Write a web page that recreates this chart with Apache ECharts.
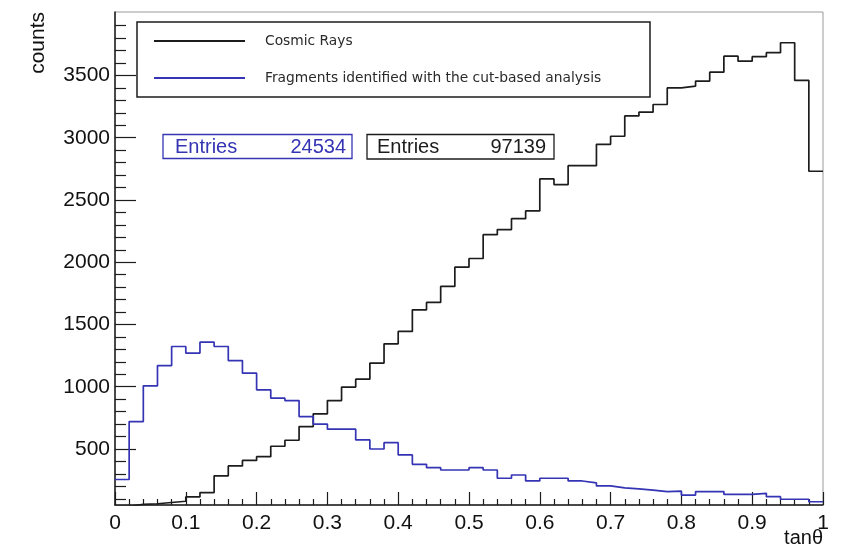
<!DOCTYPE html>
<html>
<head>
<meta charset="utf-8">
<script src="https://cdn.jsdelivr.net/npm/echarts@6/dist/echarts.min.js"></script>
<style>
  html, body { margin: 0; padding: 0; background: #ffffff; }
  #chart { width: 846px; height: 544px; }
</style>
</head>
<body>
<div id="chart"></div>
<script>
// Lower edges of the 50 tanθ bins (bin width 0.02); the last bin closes at 1.
const binEdges = [
  0.00, 0.02, 0.04, 0.06, 0.08, 0.10, 0.12, 0.14, 0.16, 0.18,
  0.20, 0.22, 0.24, 0.26, 0.28, 0.30, 0.32, 0.34, 0.36, 0.38,
  0.40, 0.42, 0.44, 0.46, 0.48, 0.50, 0.52, 0.54, 0.56, 0.58,
  0.60, 0.62, 0.64, 0.66, 0.68, 0.70, 0.72, 0.74, 0.76, 0.78,
  0.80, 0.82, 0.84, 0.86, 0.88, 0.90, 0.92, 0.94, 0.96, 0.98
];
const binUpperEdge = 1.0;

// Counts per bin
const cosmicCounts = [
  40, 55, 60, 70, 80, 115, 150, 284, 364, 408,
  438, 522, 570, 680, 782, 889, 997, 1061, 1190, 1345,
  1444, 1618, 1677, 1806, 1960, 2030, 2221, 2262, 2350, 2412,
  2669, 2624, 2776, 2776, 2947, 3012, 3175, 3205, 3267, 3400,
  3414, 3455, 3527, 3655, 3615, 3651, 3683, 3763, 3460, 2731
];
const fragmentCounts = [
  255, 720, 1007, 1170, 1323, 1270, 1358, 1323, 1210, 1109,
  975, 908, 889, 760, 700, 659, 659, 573, 500, 551,
  452, 377, 350, 331, 331, 350, 331, 265, 291, 243,
  265, 265, 243, 227, 203, 187, 179, 170, 158, 162,
  130, 158, 158, 136, 136, 144, 117, 96, 96, 76
];

const seriesNames = ['Cosmic Rays', 'Fragments identified with the cut-based analysis'];
const entriesCosmic = 97139;
const entriesFragments = 24534;

const yMajorTicks = [500, 1000, 1500, 2000, 2500, 3000, 3500];
const yMinorTicks = [
  100, 200, 300, 400, 600, 700, 800, 900, 1100, 1200, 1300, 1400,
  1600, 1700, 1800, 1900, 2100, 2200, 2300, 2400, 2600, 2700, 2800, 2900,
  3100, 3200, 3300, 3400, 3600, 3700, 3800, 3900
];

const FONT = '"Liberation Sans", Arial, Helvetica, sans-serif';
const LEGEND_FONT = '"DejaVu Sans", sans-serif';
const BLACK = '#1c1c1c';
const BLUE = '#3434b4';
const Y_MIN = 50, Y_MAX = 4010;

// Histogram outline: one point per bin edge, drawn as steps
function histogramSteps(counts) {
  const pts = binEdges.map((x, i) => [x, counts[i]]);
  pts.push([binUpperEdge, counts[counts.length - 1]]);
  return pts;
}

const chart = echarts.init(document.getElementById('chart'), null, { renderer: 'canvas' });

const option = {
  animation: false,
  backgroundColor: '#ffffff',
  grid: {
    left: 115, top: 12, width: 708, height: 493,
    show: true, borderColor: '#9a9a9a', borderWidth: 1, backgroundColor: 'transparent'
  },
  xAxis: {
    type: 'value', min: 0, max: 1, interval: 0.1,
    axisLine: { show: true, onZero: false, lineStyle: { color: BLACK, width: 1.5 } },
    axisTick: { show: true, inside: true, length: 13, lineStyle: { color: BLACK, width: 1.2 } },
    minorTick: { show: true, splitNumber: 5, length: 6, lineStyle: { color: BLACK, width: 1.2 } },
    axisLabel: { fontSize: 21, fontFamily: FONT, color: '#111', margin: 8 },
    splitLine: { show: false }
  },
  yAxis: [
    {
      type: 'value', min: Y_MIN, max: Y_MAX, position: 'left',
      axisLine: { show: true, onZero: false, lineStyle: { color: BLACK, width: 1.5 } },
      axisTick: { show: true, inside: true, length: 21, customValues: yMajorTicks,
                  lineStyle: { color: BLACK, width: 1.2 } },
      axisLabel: { show: true, customValues: yMajorTicks, fontSize: 21, fontFamily: FONT,
                   color: '#111', margin: 5, formatter: v => String(v) },
      splitLine: { show: false }
    },
    {
      type: 'value', min: Y_MIN, max: Y_MAX, position: 'left', offset: 0,
      axisLine: { show: false },
      axisTick: { show: true, inside: true, length: 11, customValues: yMinorTicks,
                  lineStyle: { color: BLACK, width: 1.2 } },
      axisLabel: { show: false },
      splitLine: { show: false }
    }
  ],
  series: [
    {
      name: seriesNames[0], type: 'line', step: 'end', yAxisIndex: 0,
      data: histogramSteps(cosmicCounts),
      symbol: 'none', clip: true, silent: true,
      lineStyle: { color: BLACK, width: 1.7 }
    },
    {
      name: seriesNames[1], type: 'line', step: 'end', yAxisIndex: 0,
      data: histogramSteps(fragmentCounts),
      symbol: 'none', clip: true, silent: true,
      lineStyle: { color: BLUE, width: 1.7 }
    }
  ],
  graphic: [
    // y-axis title
    {
      type: 'text', x: 38, y: 12, rotation: Math.PI / 2,
      style: { text: 'counts', font: '21px ' + FONT, fill: '#111',
               align: 'right', verticalAlign: 'middle' }
    },
    // x-axis title
    {
      type: 'text', x: 823, y: 528,
      style: { text: 'tanθ', font: '20px ' + FONT, fill: '#111',
               align: 'right', verticalAlign: 'top' }
    },
    // legend
    {
      type: 'rect', shape: { x: 137, y: 22, width: 513, height: 75 },
      style: { fill: '#ffffff', stroke: BLACK, lineWidth: 1.5 }, z: 10
    },
    {
      type: 'line', shape: { x1: 154, y1: 41, x2: 245, y2: 41 },
      style: { stroke: BLACK, lineWidth: 2 }, z: 11
    },
    {
      type: 'line', shape: { x1: 154, y1: 78, x2: 245, y2: 78 },
      style: { stroke: BLUE, lineWidth: 2 }, z: 11
    },
    {
      type: 'text', x: 265, y: 41, z: 11,
      style: { text: seriesNames[0], font: '13.8px ' + LEGEND_FONT, fill: '#2a2a2a',
               align: 'left', verticalAlign: 'middle' }
    },
    {
      type: 'text', x: 265, y: 78, z: 11,
      style: { text: seriesNames[1], font: '13.8px ' + LEGEND_FONT, fill: '#2a2a2a',
               align: 'left', verticalAlign: 'middle' }
    },
    // statistics boxes
    {
      type: 'rect', shape: { x: 163, y: 134.5, width: 189, height: 24 },
      style: { fill: '#ffffff', stroke: BLUE, lineWidth: 1.3 }, z: 10
    },
    {
      type: 'text', x: 175, y: 147, z: 11,
      style: { text: 'Entries', font: '20px ' + FONT, fill: BLUE, align: 'left', verticalAlign: 'middle' }
    },
    {
      type: 'text', x: 346, y: 147, z: 11,
      style: { text: String(entriesFragments), font: '20px ' + FONT, fill: BLUE, align: 'right', verticalAlign: 'middle' }
    },
    {
      type: 'rect', shape: { x: 367, y: 134.5, width: 187, height: 24.5 },
      style: { fill: '#ffffff', stroke: BLACK, lineWidth: 1.3 }, z: 10
    },
    {
      type: 'text', x: 377, y: 147, z: 11,
      style: { text: 'Entries', font: '20px ' + FONT, fill: BLACK, align: 'left', verticalAlign: 'middle' }
    },
    {
      type: 'text', x: 546, y: 147, z: 11,
      style: { text: String(entriesCosmic), font: '20px ' + FONT, fill: BLACK, align: 'right', verticalAlign: 'middle' }
    }
  ]
};

chart.setOption(option);
</script>
</body>
</html>
